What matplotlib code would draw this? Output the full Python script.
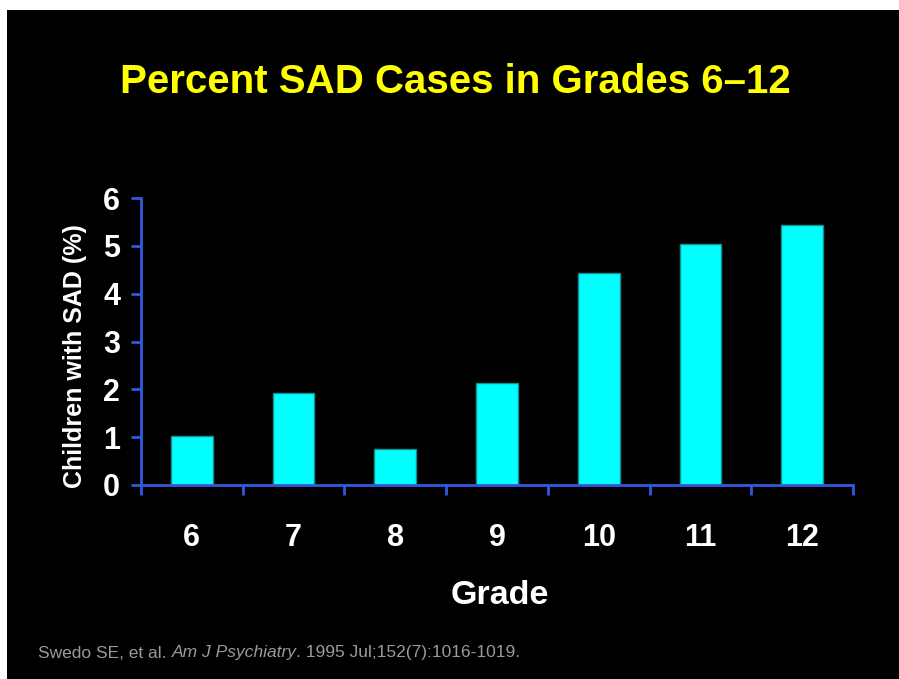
import matplotlib.pyplot as plt
from matplotlib.patches import Rectangle
from matplotlib.ticker import FixedLocator

# data
grades = ['6', '7', '8', '9', '10', '11', '12']
percent_sad = [1.03, 1.93, 0.75, 2.14, 4.43, 5.04, 5.43]
y_ticks = [0, 1, 2, 3, 4, 5, 6]

plt.rcParams['font.family'] = ['Liberation Sans', 'DejaVu Sans']

W, H = 899, 679
fig = plt.figure(figsize=(W / 100, H / 100), dpi=100, facecolor='white')
# black slide inside a thin white border (top/left)
fig.patches.append(Rectangle((7 / W, 0), 1, 1 - 10 / H, transform=fig.transFigure,
                             facecolor='black', edgecolor='none', zorder=-10))

ax = fig.add_axes([141 / W, 1 - 485 / H, (853 - 141) / W, (485 - 198) / H])
ax.set_facecolor('black')

axis_blue = '#3358E0'
ax.bar(range(len(grades)), percent_sad, width=0.41, color='#00FFFF',
       edgecolor='#178F8F', linewidth=1.0, zorder=2)

ax.set_xlim(-0.5, len(grades) - 0.5)
ax.set_ylim(0, 6)
for s in ['top', 'right']:
    ax.spines[s].set_visible(False)
for s in ['left', 'bottom']:
    ax.spines[s].set_color(axis_blue)
    ax.spines[s].set_linewidth(2)

ax.set_yticks(y_ticks)
ax.set_yticklabels([str(t) for t in y_ticks])
ax.tick_params(axis='y', direction='out', length=7, width=2, color=axis_blue,
               labelcolor='white', labelsize=22, pad=8)
for lab in ax.get_yticklabels():
    lab.set_fontweight('bold')

ax.set_xticks(range(len(grades)))
ax.set_xticklabels(grades)
ax.tick_params(axis='x', which='major', length=0, labelcolor='white',
               labelsize=22, pad=27)
for lab in ax.get_xticklabels():
    lab.set_fontweight('bold')
ax.xaxis.set_minor_locator(FixedLocator([i - 0.5 for i in range(len(grades) + 1)]))
ax.tick_params(axis='x', which='minor', direction='out', length=7, width=2,
               color=axis_blue)

fig.text(455 / W, 1 - 82 / H, 'Percent SAD Cases in Grades 6\u201312', color='#FFFF00',
         fontsize=29, fontweight='bold', ha='center', va='center')
fig.text(500 / W, 1 - 595 / H, 'Grade', color='white', fontsize=24.5,
         fontweight='bold', ha='center', va='center')
fig.text(75 / W, 1 - 356 / H, 'Children with SAD (%)', color='white', fontsize=18,
         fontweight='bold', ha='center', va='center', rotation=90)

# citation, with the journal in italics
renderer = fig.canvas.get_renderer()
x = 38 / W
y = 1 - 653 / H
for piece, style in [('Swedo SE, et al. ', 'normal'), ('Am J Psychiatry', 'italic'),
                     ('. 1995 Jul;152(7):1016-1019.', 'normal')]:
    t = fig.text(x, y, piece, color='#9A9A9A', fontsize=12.5, style=style,
                 ha='left', va='center')
    bb = t.get_window_extent(renderer=renderer)
    x += bb.width / W

fig.savefig('out.png', dpi=100, facecolor=fig.get_facecolor())
